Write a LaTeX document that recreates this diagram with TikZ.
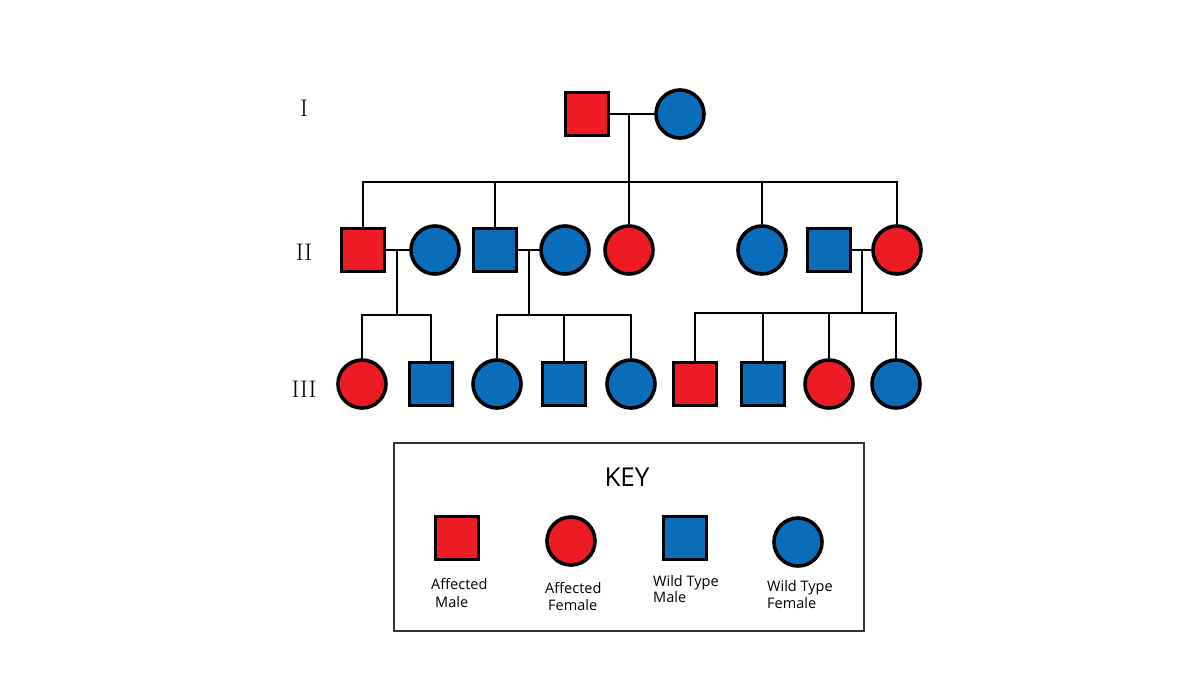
\documentclass[tikz,border=0pt]{standalone}
\usepackage{fontspec}
\setsansfont{Open Sans}
\usepackage{xcolor}
\usetikzlibrary{positioning}
\definecolor{affred}{HTML}{ED1C24}
\definecolor{wildblue}{HTML}{0A6DBA}

\begin{document}
\begin{tikzpicture}[x=1pt,y=-1pt,
  indiv/.style={draw=black,line width=3.6pt,inner sep=0pt},
  male/.style={indiv,rectangle,minimum size=43pt},
  female/.style={indiv,circle,minimum size=48pt},
  aff/.style={fill=affred},
  wild/.style={fill=wildblue},
  link/.style={line width=2.9pt},
  gen/.style={font=\fontsize{24}{28}\selectfont},
  keytext/.style={font=\sffamily\fontsize{14.5}{17}\selectfont,anchor=base west,inner sep=0pt}]
\useasboundingbox (0,0) rectangle (1200,675);
% generation labels
\node[gen] (gI) at (304,108) {I};
\node[gen] (gII) at (304,252) {II};
\node[gen] (gIII) at (304,389) {III};
% generation I
\node[male,aff] (I1) at (587,114) {};
\node[female,wild] (I2) at (680,114) {};
\coordinate (mI) at (629,114);
\coordinate (sibII) at (629,182);
\draw[link] (I1) -- (I2);
% generation II
\node[male,aff] (II1) at (363,250) {};
\node[female,wild] (II2) at (435,250) {};
\node[male,wild] (II3) at (495,250) {};
\node[female,wild] (II4) at (565,250) {};
\node[female,aff] (II5) at (629,250) {};
\node[female,wild] (II6) at (762,250) {};
\node[male,wild] (II7) at (829,250) {};
\node[female,aff] (II8) at (897,250) {};
\draw[link] (II1.north) |- (sibII) -| (II8.north);
\draw[link] (mI) -- (II5);
\foreach \n in {II3,II6} {\draw[link] (\n |- sibII) -- (\n);}
\draw[link] (II1) -- (II2);
\draw[link] (II3) -- (II4);
\draw[link] (II7) -- (II8);
% generation III
\node[female,aff] (III1) at (362,384) {};
\node[male,wild] (III2) at (431,384) {};
\node[female,wild] (III3) at (497,384) {};
\node[male,wild] (III4) at (564,384) {};
\node[female,wild] (III5) at (631,384) {};
\node[male,aff] (III6) at (695,384) {};
\node[male,wild] (III7) at (763,384) {};
\node[female,aff] (III8) at (829,384) {};
\node[female,wild] (III9) at (896,384) {};
\coordinate (mIIa) at (397,250);
\coordinate (sibIIIa) at (397,315);
\coordinate (mIIb) at (529,250);
\coordinate (sibIIIb) at (529,315);
\coordinate (mIIc) at (862,250);
\coordinate (sibIIIc) at (862,313);
\draw[link] (mIIa) -- (sibIIIa);
\draw[link] (III1.north) |- (sibIIIa) -| (III2.north);
\draw[link] (mIIb) -- (sibIIIb);
\draw[link] (III3.north) |- (sibIIIb) -| (III5.north);
\draw[link] (III4 |- sibIIIb) -- (III4);
\draw[link] (mIIc) -- (sibIIIc);
\draw[link] (III6.north) |- (sibIIIc) -| (III9.north);
\foreach \n in {III7,III8} {\draw[link] (\n |- sibIIIc) -- (\n);}
% key
\draw[line width=1.5pt,black!80] (394,443) rectangle (864,631);
\node[font=\sffamily\fontsize{26}{30}\selectfont] (keyhead) at (627,477) {KEY};
\node[male,aff] (kAM) at (457,538) {};
\node[female,aff] (kAF) at (571,541) {};
\node[male,wild] (kWM) at (685,538) {};
\node[female,wild] (kWF) at (798,542) {};
\node[keytext] (lAMa) at (431,589) {Affected};
\node[keytext] (lAMb) at (435,607) {Male};
\node[keytext] (lAFa) at (545,593) {Affected};
\node[keytext] (lAFb) at (548,610) {Female};
\node[keytext] (lWMa) at (653,586) {Wild Type};
\node[keytext] (lWMb) at (653,602) {Male};
\node[keytext] (lWFa) at (767,591) {Wild Type};
\node[keytext] (lWFb) at (767,608) {Female};
\end{tikzpicture}
\end{document}
